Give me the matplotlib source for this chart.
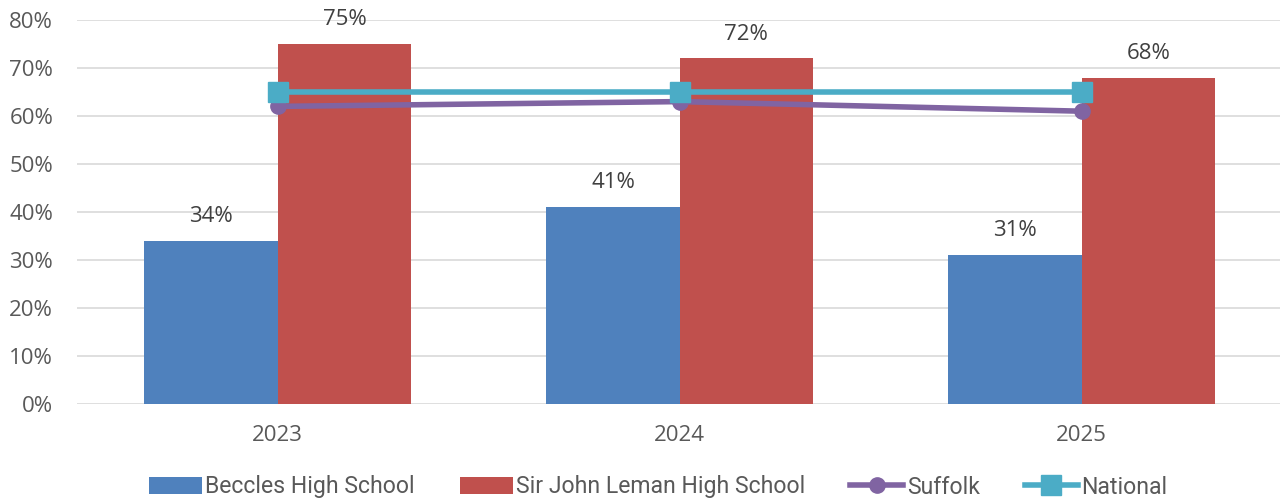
import matplotlib.pyplot as plt
import numpy as np
from matplotlib.ticker import PercentFormatter

# values
years = ['2023', '2024', '2025']
beccles = [34, 41, 31]
sir_john = [75, 72, 68]
suffolk = [62, 63, 61]
national = [65, 65, 65]

blue = '#4F81BD'
red = '#C0504D'
purple = '#8064A2'
teal = '#4BACC6'
grey = '#595959'

plt.rcParams['font.family'] = ['Open Sans', 'DejaVu Sans']

fig = plt.figure(figsize=(12.8, 5), dpi=100)
ax = fig.add_axes([0.060, 0.192, 0.942, 0.768])

x = np.arange(len(years))
w = 0.332

b1 = ax.bar(x - w / 2, beccles, w, color=blue, label='Beccles High School', zorder=2)
b2 = ax.bar(x + w / 2, sir_john, w, color=red, label='Sir John Leman High School', zorder=2)

l1, = ax.plot(x, suffolk, color=purple, lw=4, marker='o', ms=11, label='Suffolk', zorder=3)
l2, = ax.plot(x, national, color=teal, lw=4, marker='s', ms=14, label='National', zorder=4)

# data labels on the bars
for bars in (b1, b2):
    for r in bars:
        ax.annotate('%d%%' % r.get_height(), (r.get_x() + r.get_width() / 2, r.get_height()),
                    xytext=(0, 10), textcoords='offset points', ha='center', va='bottom',
                    fontsize=16, color='#404040')

ax.set_xlim(-0.5, 2.5)
ax.set_ylim(0, 80)
ax.set_yticks(range(0, 81, 10))
ax.yaxis.set_major_formatter(PercentFormatter(decimals=0))
ax.set_xticks(x)
ax.set_xticklabels(years)

ax.grid(axis='y', color='#d9d9d9', lw=1.2, zorder=0)
for s in ax.spines.values():
    s.set_visible(False)
ax.tick_params(length=0, labelsize=16, colors=grey)
ax.tick_params(axis='x', pad=15)
ax.tick_params(axis='y', pad=17)

leg = fig.legend([b1, b2, l1, l2],
                 ['Beccles High School', 'Sir John Leman High School', 'Suffolk', 'National'],
                 loc='center', bbox_to_anchor=(0.514, 0.026), ncol=4, frameon=False,
                 handlelength=2.3, handletextpad=0.15, columnspacing=1.95,
                 prop={'family': ['Roboto'], 'size': 16.6})
for t in leg.get_texts():
    t.set_color(grey)

fig.savefig('out.png', dpi=100)
